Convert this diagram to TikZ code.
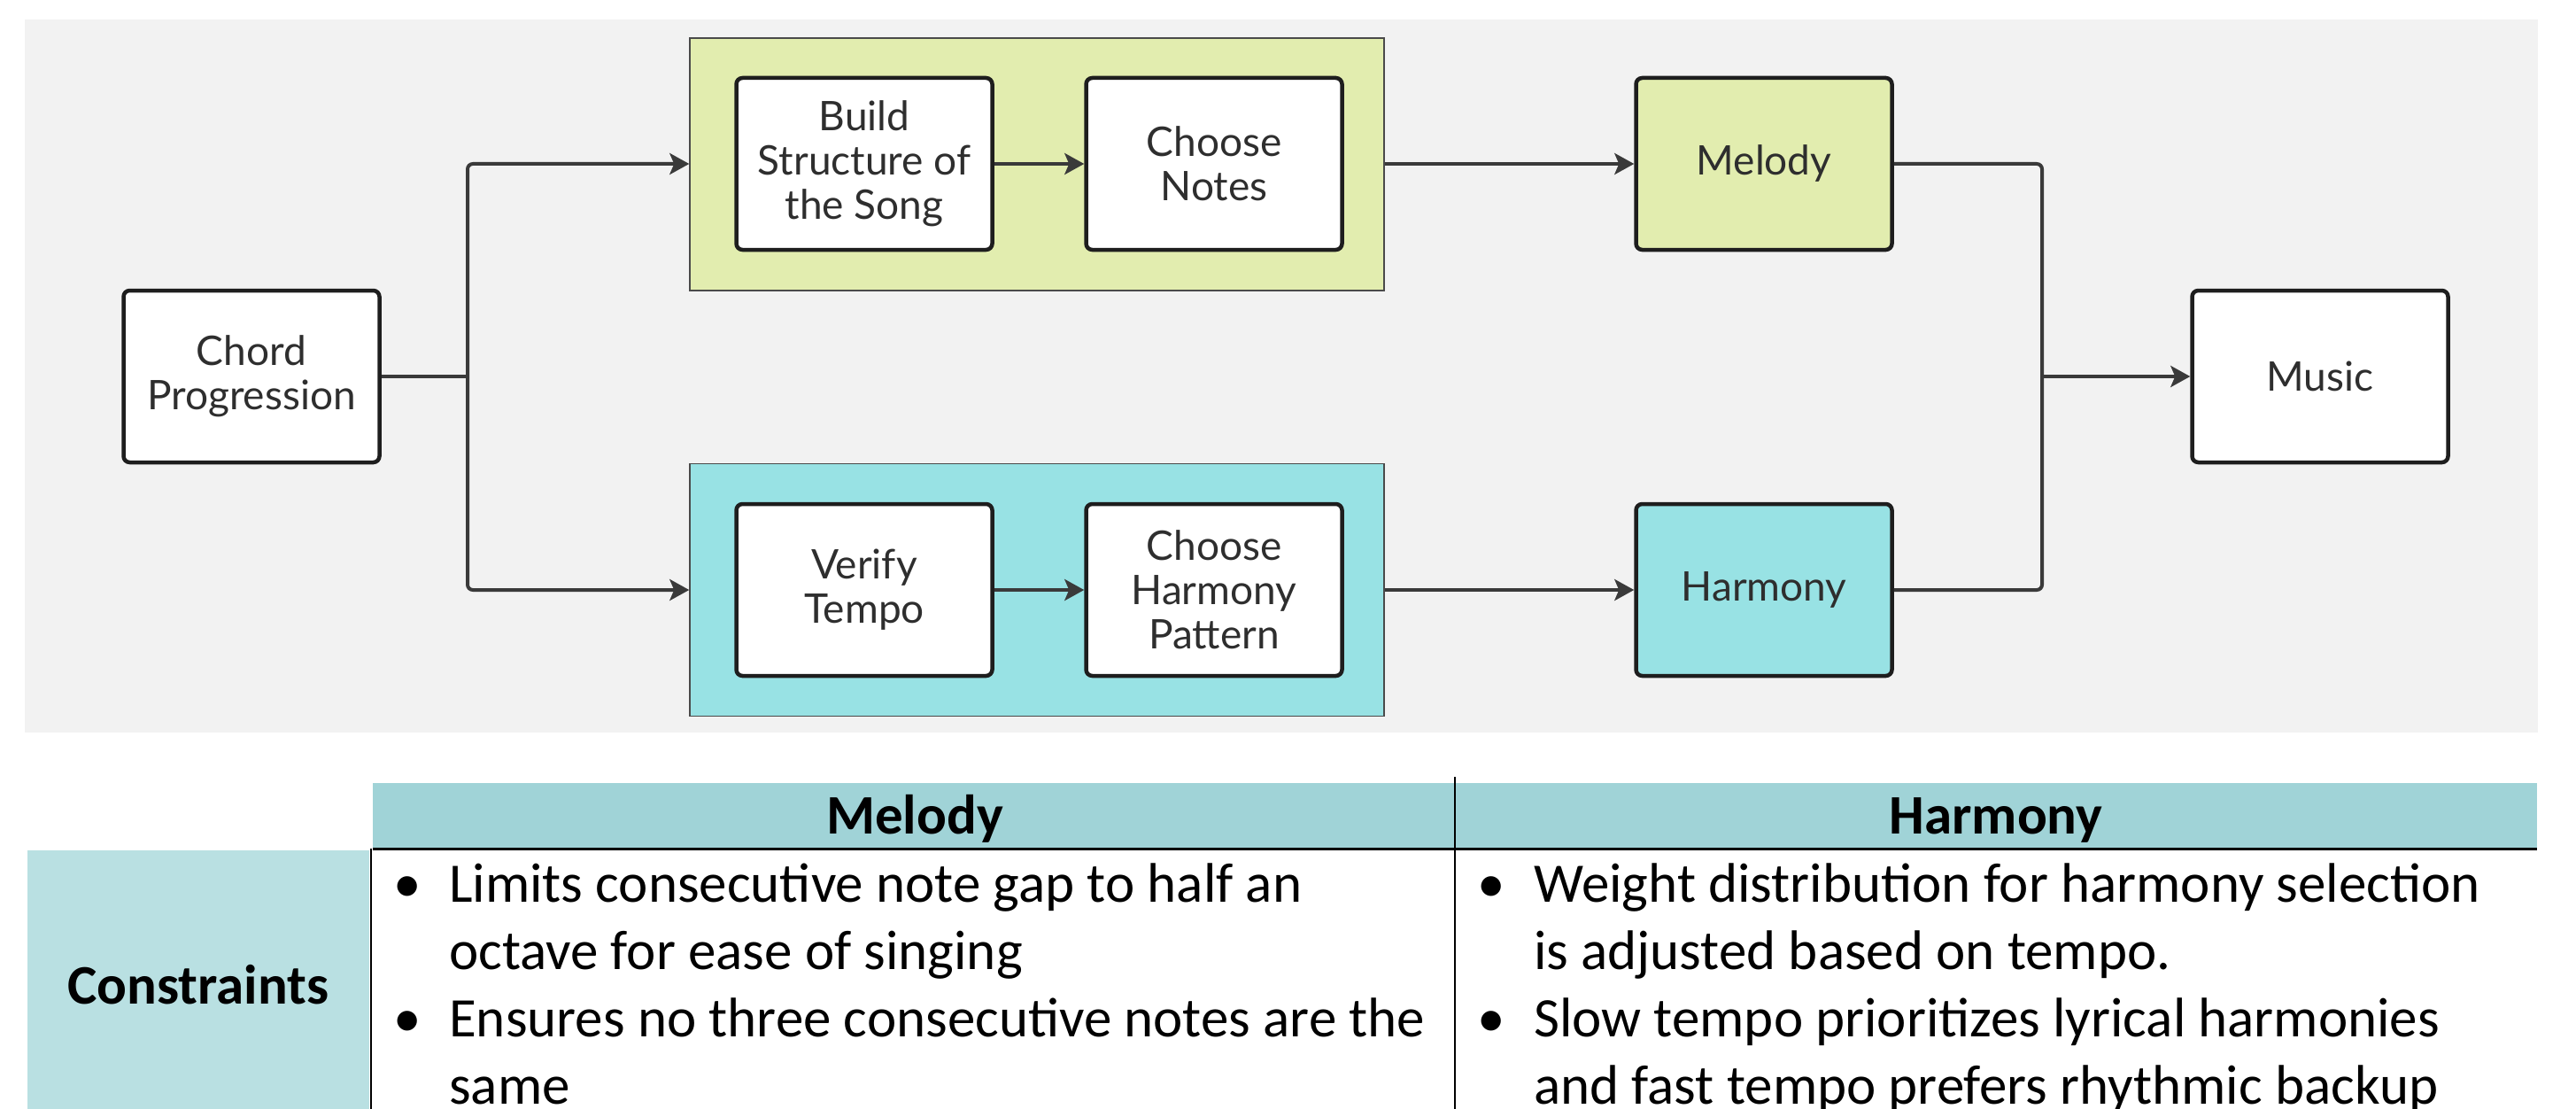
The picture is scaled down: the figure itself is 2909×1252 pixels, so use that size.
\documentclass[tikz,border=0pt]{standalone}
\usepackage{fontspec}
\setmainfont{Carlito}
\newfontfamily\figfont{Lato}
\usetikzlibrary{arrows.meta}
\definecolor{bggrey}{HTML}{F2F2F2}
\definecolor{lgreen}{HTML}{E2EDAF}
\definecolor{lcyan}{HTML}{98E2E4}
\definecolor{hdrteal}{HTML}{A0D3D7}
\definecolor{rowteal}{HTML}{B9E0E2}
\definecolor{boxline}{HTML}{1E1E1E}
\definecolor{arrowc}{HTML}{3A3A3A}
\definecolor{contline}{HTML}{4A4A4A}
\definecolor{figtext}{HTML}{2E2E2E}
\tikzset{
  fbox/.style={draw=boxline, line width=4.5pt, rounded corners=7pt, fill=white,
    minimum width=289pt, minimum height=194pt, align=center, inner sep=0pt,
    font=\figfont\fontsize{46}{50}\selectfont, text=figtext},
  cont/.style={draw=contline, line width=1.5pt, minimum width=784pt, minimum height=285pt, inner sep=0pt},
  conn/.style={draw=arrowc, line width=4pt, rounded corners=6pt},
  arr/.style={conn, -{Stealth[length=22pt,width=24pt,inset=5pt]}},
  hdr/.style={font=\bfseries\fontsize{63}{76}\selectfont, anchor=base, inner sep=0pt},
  body/.style={font=\fontsize{63}{76}\selectfont, anchor=base west, inner sep=0pt},
  tline/.style={draw=black, line width=2pt},
}
\begin{document}
\begin{tikzpicture}[x=1pt,y=-1pt]
\useasboundingbox (0,0) rectangle (2909,1252);
\clip (0,0) rectangle (2909,1252);
\fill[white] (0,0) rectangle (2909,1252);
% flowchart background
\fill[bggrey] (28,22) rectangle (2866,827);
% containers
\node[cont, fill=lgreen] (gcont) at (1171,185.5) {};
\node[cont, fill=lcyan] (ccont) at (1171,666) {};
% boxes
\node[fbox] (chord) at (284,425) {Chord\\Progression};
\node[fbox] (build) at (976,185) {Build\\Structure of\\the Song};
\node[fbox] (notes) at (1371,185) {Choose\\Notes};
\node[fbox, fill=lgreen] (melody) at (1992,185) {Melody};
\node[fbox] (verify) at (976,666) {Verify\\Tempo};
\node[fbox] (pattern) at (1371,666) {Choose\\Harmony\\Pattern};
\node[fbox, fill=lcyan] (harmony) at (1992,666) {Harmony};
\node[fbox] (music) at (2620,425) {Music};
% connectors
\coordinate (split) at (528,425);
\coordinate (merge) at (2306,425);
\draw[conn] (chord.east) -- (split);
\draw[arr] (split) |- (gcont.west |- build.center);
\draw[arr] (split) |- (ccont.west |- verify.center);
\draw[arr] (build.east) -- (notes.west);
\draw[arr] (verify.east) -- (pattern.west);
\draw[arr] (gcont.east |- notes.center) -- (melody.west);
\draw[arr] (ccont.east |- pattern.center) -- (harmony.west);
\draw[conn] (melody.east) -| (merge);
\draw[conn] (harmony.east) -| (merge);
\draw[arr] (merge) -- (music.west);
% table
\fill[hdrteal] (421,884) rectangle (2865,958);
\fill[rowteal] (31,960) rectangle (417,1252);
\draw[black, line width=3pt] (421,958) -- (2865,958);
\draw[tline] (419,958) -- (419,1252);
\draw[tline] (1643,877) -- (1643,1252);
\node[hdr] (hmel) at (1033,941) {Melody};
\node[hdr] (hhar) at (2254,941) {Harmony};
\node[hdr] (hcon) at (224,1133) {Constraints};
% melody column
\node[body] (mb1) at (444,1018) {•};
\node[body] (mb2) at (444,1170) {•};
\node[body] (m1) at (507,1018) {Limits consecutive note gap to half an};
\node[body] (m2) at (507,1094) {octave for ease of singing};
\node[body] (m3) at (507,1170) {Ensures no three consecutive notes are the};
\node[body] (m4) at (507,1246) {same};
% harmony column
\node[body] (hb1) at (1668,1018) {•};
\node[body] (hb2) at (1668,1170) {•};
\node[body] (h1) at (1732,1018) {Weight distribution for harmony selection};
\node[body] (h2) at (1732,1094) {is adjusted based on tempo.};
\node[body] (h3) at (1732,1170) {Slow tempo prioritizes lyrical harmonies};
\node[body] (h4) at (1732,1246) {and fast tempo prefers rhythmic backup};
\end{tikzpicture}
\end{document}
